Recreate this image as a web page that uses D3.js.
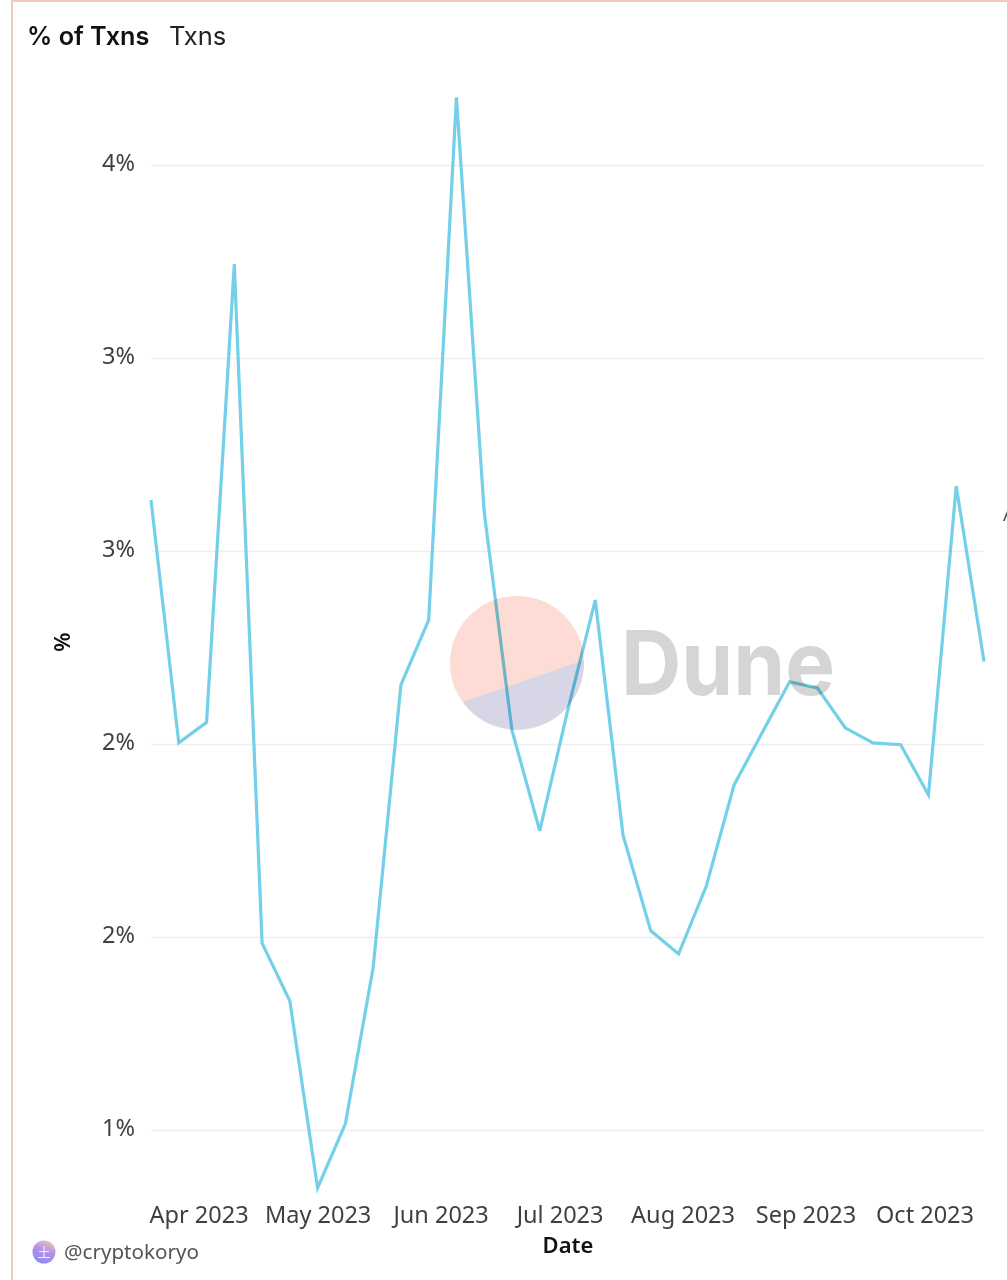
<!DOCTYPE html>
<html>
<head>
<meta charset="utf-8">
<script src="https://cdnjs.cloudflare.com/ajax/libs/d3/7.8.5/d3.min.js"></script>
<style>
  html, body { margin: 0; padding: 0; background: #fff; overflow: hidden; }
  svg { display: block; font-family: "Noto Sans", sans-serif; }
  .domain { display: none; }
  .grid line { stroke: #eeeeee; stroke-width: 1.5; }
  .tickLabel text { fill: #3f3f46; font-size: 23.5px; font-family: "Noto Sans", sans-serif; }
</style>
</head>
<body>
<div id="chart"></div>
<script>
// Data
const firstWeek = '2023-03-20';
const pct = [
  3.132, 2.503, 2.556, 3.743, 1.984, 1.834, 1.35, 1.516, 1.92, 2.653, 2.821,
  4.175, 3.101, 2.536, 2.275, 2.585, 2.873, 2.264, 2.016, 1.956, 2.132, 2.394,
  2.528, 2.661, 2.645, 2.542, 2.503, 2.498, 2.368, 3.168, 2.714
];
const yTicks = [1.5, 2, 2.5, 3, 3.5, 4];
const yTickLabels = ['1%', '2%', '2%', '3%', '3%', '4%'];
const xTickDates = ['2023-04-01', '2023-05-01', '2023-06-01', '2023-07-01', '2023-08-01', '2023-09-01', '2023-10-01'];

const width = 1007;
const height = 1280;
const plot = { left: 151, right: 984, top: 165, bottom: 1130 };

const parseDate = d3.utcParse('%Y-%m-%d');
const dates = pct.map((d, i) => d3.utcDay.offset(parseDate(firstWeek), i * 7));
const rows = pct.map((d, i) => ({ date: dates[i], value: d }));

const x = d3.scaleUtc()
    .domain(d3.extent(dates))
    .range([plot.left, plot.right]);

const y = d3.scaleLinear()
    .domain([yTicks[0], yTicks[yTicks.length - 1]])
    .range([plot.bottom, plot.top]);

const svg = d3.select('#chart').append('svg')
    .attr('width', width)
    .attr('height', height)
    .attr('viewBox', [0, 0, width, height]);

// panel border, only top and left are in frame
svg.append('path')
    .attr('d', `M12,1280V1H1007`)
    .attr('fill', 'none')
    .attr('stroke', '#f3c8c2')
    .attr('stroke-width', 2);

// tabs
svg.append('text')
    .attr('x', 27).attr('y', 45)
    .attr('font-family', 'Inter')
    .attr('font-size', 25.2)
    .attr('font-weight', 600)
    .attr('fill', '#111')
    .text('% of Txns');

svg.append('text')
    .attr('x', 169).attr('y', 45)
    .attr('font-family', 'Inter')
    .attr('font-size', 25.5)
    .attr('fill', '#222')
    .text('Txns');

// grid + y labels
svg.append('g')
    .attr('class', 'grid tickLabel')
    .attr('transform', `translate(${plot.left},0)`)
    .call(d3.axisLeft(y)
        .tickValues(yTicks)
        .tickFormat((d, i) => yTickLabels[i])
        .tickSize(-(plot.right - plot.left))
        .tickPadding(16))
    .selectAll('text')
    .attr('dy', '0.22em');

// x labels
svg.append('g')
    .attr('class', 'tickLabel')
    .attr('transform', `translate(0,1206)`)
    .call(d3.axisBottom(x)
        .tickValues(xTickDates.map(parseDate))
        .tickFormat(d3.utcFormat('%b %Y'))
        .tickSize(0)
        .tickPadding(0))
    .selectAll('text')
    .attr('dy', '0.71em');

// axis titles
svg.append('text')
    .attr('transform', 'translate(70,642) rotate(-90)')
    .attr('text-anchor', 'middle')
    .attr('font-size', 22)
    .attr('font-weight', 600)
    .attr('fill', '#111')
    .text('%');

svg.append('text')
    .attr('x', 568).attr('y', 1253)
    .attr('text-anchor', 'middle')
    .attr('font-size', 22)
    .attr('font-weight', 600)
    .attr('fill', '#111')
    .text('Date');

// cut-off label on the right edge
svg.append('text')
    .attr('x', 1003).attr('y', 521)
    .attr('font-size', 20)
    .attr('fill', '#555')
    .text('A');

// the series
const line = d3.line()
    .x(d => x(d.date))
    .y(d => y(d.value));

svg.append('path')
    .datum(rows)
    .attr('fill', 'none')
    .attr('stroke', '#74d0e8')
    .attr('stroke-width', 3.2)
    .attr('stroke-linejoin', 'miter')
    .attr('d', line);

// watermark sits over the line, so it darkens it
const mark = svg.append('g').style('mix-blend-mode', 'multiply');

mark.append('circle')
    .attr('cx', 517).attr('cy', 663).attr('r', 67)
    .attr('fill', '#fcdcd5');

mark.append('path')
    .attr('d', 'M463,702L584,660A67,67 0 0 1 463,702Z')
    .attr('fill', '#d6d6e6');

mark.append('text')
    .attr('x', 621).attr('y', 695)
    .attr('font-family', 'Inter')
    .attr('font-weight', 700)
    .attr('font-size', 89)
    .attr('textLength', 214)
    .attr('lengthAdjust', 'spacingAndGlyphs')
    .attr('fill', '#d5d5d5')
    .text('Dune');

// credit
const defs = svg.append('defs');
const grad = defs.append('linearGradient')
    .attr('id', 'avatar')
    .attr('x1', 0.7).attr('y1', 0)
    .attr('x2', 0.3).attr('y2', 1);
grad.append('stop').attr('offset', '0%').attr('stop-color', '#d9c8c0');
grad.append('stop').attr('offset', '45%').attr('stop-color', '#b78fe8');
grad.append('stop').attr('offset', '100%').attr('stop-color', '#8a8cf0');

svg.append('circle')
    .attr('cx', 44).attr('cy', 1252).attr('r', 11.5)
    .attr('fill', 'url(#avatar)');

svg.append('text')
    .attr('x', 44).attr('y', 1257)
    .attr('text-anchor', 'middle')
    .attr('font-family', '"Noto Sans CJK SC"')
    .attr('font-size', 13)
    .attr('fill', '#f3eefc')
    .text('土');

svg.append('text')
    .attr('x', 64).attr('y', 1259)
    .attr('font-size', 20.6)
    .attr('fill', '#555')
    .text('@cryptokoryo');
</script>
</body>
</html>
